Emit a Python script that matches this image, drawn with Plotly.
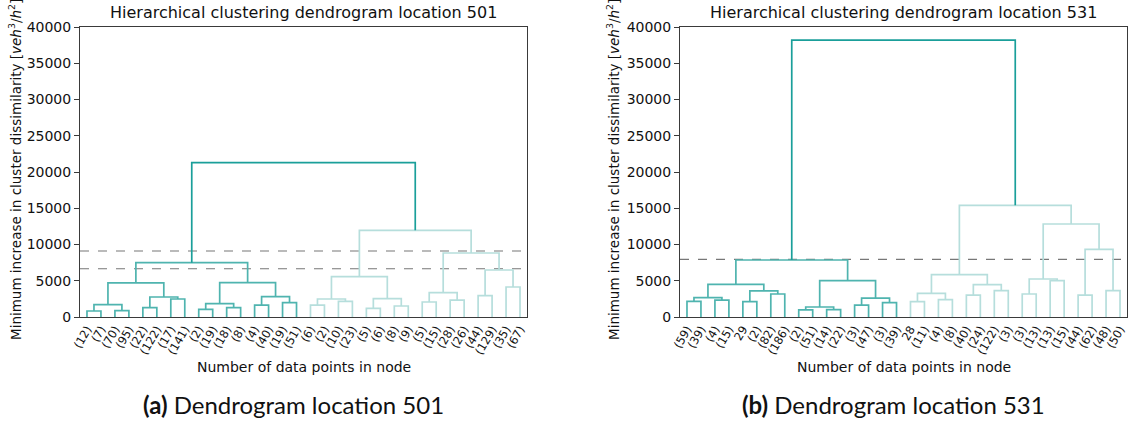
import plotly.graph_objects as go

# ---- data -------------------------------------------------------------
# Leaf labels (number of data points in each node) for both locations
leaves_501 = ["(12)", "(7)", "(70)", "(95)", "(22)", "(122)", "(17)", "(141)",
              "(2)", "(19)", "(18)", "(8)", "(4)", "(40)", "(19)", "(51)",
              "(6)", "(2)", "(10)", "(23)", "(5)", "(6)", "(8)", "(9)",
              "(5)", "(15)", "(28)", "(26)", "(44)", "(129)", "(35)", "(67)"]
leaves_531 = ["(59)", "(39)", "(4)", "(15)", "29", "(2)", "(82)", "(186)",
              "(2)", "(51)", "(14)", "(22)", "(3)", "(47)", "(3)", "(39)",
              "28", "(11)", "(4)", "(8)", "(40)", "(24)", "(122)", "(3)",
              "(3)", "(13)", "(13)", "(15)", "(44)", "(62)", "(48)", "(50)"]

# Merge order: node ids 0..31 are leaves, each merge creates node 32, 33, ...
merge_pairs = [(0, 1), (2, 3), (32, 33), (4, 5), (6, 7), (35, 36), (34, 37),
               (8, 9), (10, 11), (39, 40), (12, 13), (14, 15), (42, 43), (41, 44),
               (38, 45),
               (16, 17), (18, 19), (47, 48), (20, 21), (22, 23), (50, 51), (49, 52),
               (24, 25), (26, 27), (54, 55), (28, 29), (30, 31), (57, 58), (56, 59),
               (53, 60),
               (46, 61)]

# Merge heights (minimum increase in cluster dissimilarity)
heights_501 = [830, 880, 1700, 1290, 2480, 2760, 4700,
               1060, 1290, 1840, 1650, 1980, 2800, 4740,
               7500,
               1650, 2160, 2480, 1190, 1520, 2530, 5560,
               2070, 2340, 3360, 2940, 4140, 6480, 8830,
               11950,
               21300]
heights_531 = [2160, 2340, 2670, 2110, 3170, 3590, 4500,
               970, 1010, 1380, 1650, 1980, 2600, 5010,
               7860,
               2110, 2390, 3260, 3030, 3630, 4460, 5840,
               3170, 5010, 5240, 3030, 3630, 9330, 12830,
               15400,
               38200]

# Cut thresholds drawn as dashed lines
cuts_501 = [9100, 6650]
cuts_531 = [7950]

y_ticks = [0, 5000, 10000, 15000, 20000, 25000, 30000, 35000, 40000]

# ---- styling ----------------------------------------------------------
W, H = 1129, 421
ROOT_COLOR = "#1a9f9a"
CLUSTER_COLORS = ["#4fb4af", "#b6dedc"]
AXIS_COLOR = "#3a3a3a"
FONT = "DejaVu Sans"


def dendrogram_traces(labels, pairs, heights, xref, yref):
    n = len(labels)
    xpos = {i: 5 + 10 * i for i in range(n)}
    hpos = {i: 0 for i in range(n)}
    for k, (a, b) in enumerate(pairs):
        node = n + k
        xpos[node] = (xpos[a] + xpos[b]) / 2
        hpos[node] = heights[k]

    # colour each merge by the top-level cluster it belongs to
    root = n + len(pairs) - 1
    colour = {}

    def paint(node, c):
        if node < n:
            return
        colour[node] = c
        a, b = pairs[node - n]
        paint(a, c)
        paint(b, c)

    ra, rb = pairs[-1]
    paint(ra, CLUSTER_COLORS[0])
    paint(rb, CLUSTER_COLORS[1])
    colour[root] = ROOT_COLOR

    segs = {}
    for k, (a, b) in enumerate(pairs):
        node = n + k
        c = colour[node]
        xs, ys = segs.setdefault(c, ([], []))
        xs += [xpos[a], xpos[a], xpos[b], xpos[b], None]
        ys += [hpos[a], hpos[node], hpos[node], hpos[b], None]

    traces = []
    for c in CLUSTER_COLORS + [ROOT_COLOR]:
        xs, ys = segs[c]
        traces.append(go.Scatter(x=xs, y=ys, mode="lines",
                                 line=dict(color=c, width=1.7),
                                 xaxis=xref, yaxis=yref, showlegend=False,
                                 hoverinfo="skip"))
    return traces


def cut_traces(cuts, n, xref, yref):
    out = []
    for c in cuts:
        out.append(go.Scatter(x=[0, 10 * n], y=[c, c], mode="lines",
                              line=dict(color="#777777", width=1.1, dash="dash"),
                              xaxis=xref, yaxis=yref, showlegend=False,
                              hoverinfo="skip"))
    return out


fig = go.Figure()
for t in cut_traces(cuts_501, len(leaves_501), "x", "y"):
    fig.add_trace(t)
for t in dendrogram_traces(leaves_501, merge_pairs, heights_501, "x", "y"):
    fig.add_trace(t)
for t in cut_traces(cuts_531, len(leaves_531), "x2", "y2"):
    fig.add_trace(t)
for t in dendrogram_traces(leaves_531, merge_pairs, heights_531, "x2", "y2"):
    fig.add_trace(t)

# axes placement in pixels
left_ax = (80, 527)
right_ax = (680, 1127)
top_px, bottom_px = 27, 317
ydom = [1 - bottom_px / H, 1 - top_px / H]


def xaxis_cfg(labels, px_range):
    return dict(domain=[px_range[0] / W, px_range[1] / W],
                range=[0, 10 * len(labels)], automargin=False,
                tickmode="array",
                tickvals=[5 + 10 * i for i in range(len(labels))],
                ticktext=labels, tickangle=-60,
                tickfont=dict(family=FONT, size=11.5, color="#111"),
                ticks="", showgrid=False, zeroline=False,
                showline=True, mirror=True, linecolor=AXIS_COLOR, linewidth=1)


def yaxis_cfg(anchor):
    return dict(domain=ydom, range=[0, 40000], anchor=anchor, automargin=False,
                tickmode="array", tickvals=y_ticks,
                ticktext=[str(v) for v in y_ticks],
                tickfont=dict(family=FONT, size=14, color="#111"),
                ticks="outside", ticklen=5, tickcolor=AXIS_COLOR,
                showgrid=False, zeroline=False,
                showline=True, mirror=True, linecolor=AXIS_COLOR, linewidth=1)


fig.update_layout(
    width=W, height=H,
    margin=dict(l=0, r=0, t=0, b=0, autoexpand=False),
    paper_bgcolor="white", plot_bgcolor="white",
    xaxis=dict(**xaxis_cfg(leaves_501, left_ax), anchor="y"),
    yaxis=yaxis_cfg("x"),
    xaxis2=dict(**xaxis_cfg(leaves_531, right_ax), anchor="y2"),
    yaxis2=yaxis_cfg("x2"),
)

ylabel = "Minimum increase in cluster dissimilarity [<i>veh</i><sup>3</sup>/<i>h</i><sup>2</sup>]"
annotations = []
for (x0, x1), loc, tag, ylab_x in [(left_ax, "501", "a", 15), (right_ax, "531", "b", 613)]:
    cx = (x0 + x1) / 2 / W
    annotations += [
        dict(text=f"Hierarchical clustering dendrogram location {loc}",
             x=cx, y=1 - 13 / H, xref="paper", yref="paper", showarrow=False,
             xanchor="center", yanchor="middle",
             font=dict(family=FONT, size=16, color="#111")),
        dict(text=ylabel, x=ylab_x / W, y=1 - 170 / H, xref="paper", yref="paper",
             showarrow=False, textangle=-90, xanchor="center", yanchor="middle",
             font=dict(family=FONT, size=13.5, color="#111")),
        dict(text="Number of data points in node",
             x=cx, y=1 - 367 / H, xref="paper", yref="paper", showarrow=False,
             xanchor="center", yanchor="middle",
             font=dict(family=FONT, size=14, color="#111")),
        dict(text=f"<b>({tag})</b> Dendrogram location {loc}",
             x=cx - 10 / W, y=1 - 404 / H, xref="paper", yref="paper", showarrow=False,
             xanchor="center", yanchor="middle",
             font=dict(family="Lato", size=24, color="#111")),
    ]
fig.update_layout(annotations=annotations)

fig.write_html("out.html")
